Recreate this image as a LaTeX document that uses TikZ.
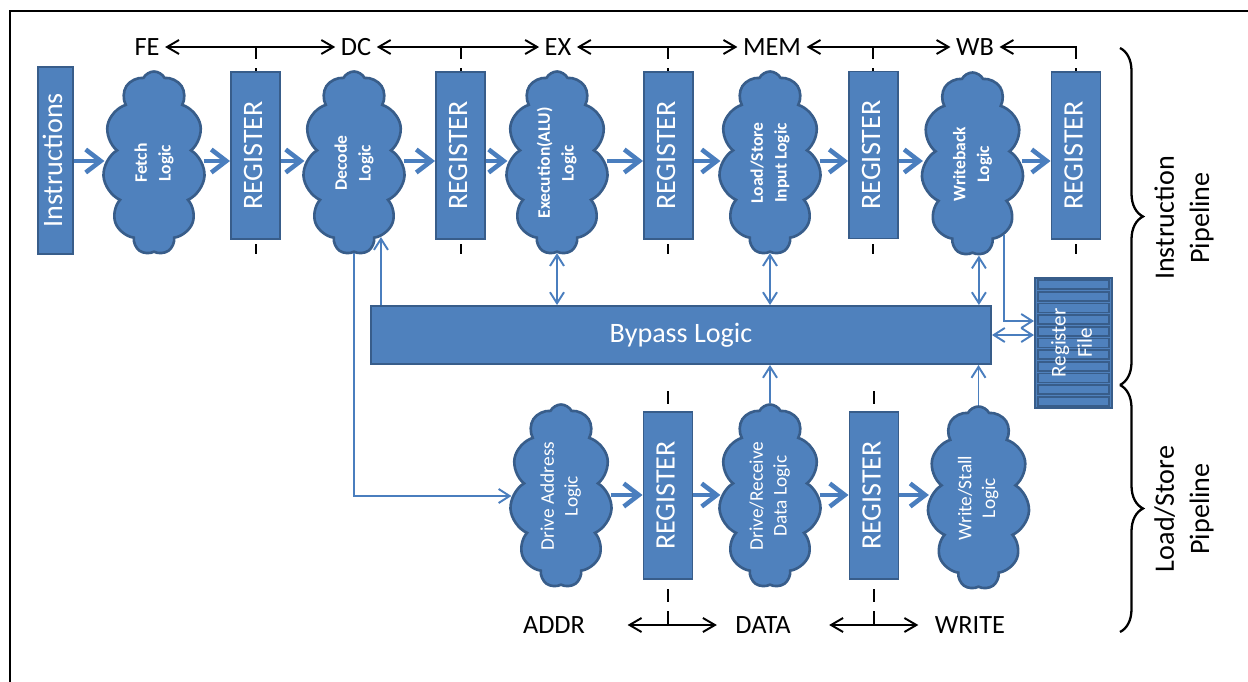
\documentclass[tikz,border=0pt]{standalone}
\usepackage{fontspec}
\setmainfont{Carlito}
\usepackage{tikz}
\usetikzlibrary{shapes.symbols,arrows.meta,decorations.pathreplacing,positioning}

\definecolor{stageblue}{RGB}{79,129,189}
\definecolor{stageedge}{RGB}{56,93,138}
\definecolor{wireblue}{RGB}{74,126,190}

\newcommand{\vtxt}[1]{\rotatebox{90}{\begin{tabular}{@{}c@{}}#1\end{tabular}}}

\tikzset{
  regbox/.style={draw=stageedge, fill=stageblue, line width=1.1pt, text=white, inner sep=0pt,
    minimum width=9.8mm, minimum height=33.4mm, font=\fontsize{16}{19}\selectfont},
  logiccloud/.style={cloud, cloud puffs=11, cloud puff arc=125, cloud ignores aspect, draw=stageedge, fill=stageblue,
    line width=1.5pt, text=white, inner sep=0pt, minimum width=20.4mm, minimum height=36.6mm},
  boldlogic/.style={logiccloud, font=\fontsize{10}{13.5}\selectfont\bfseries},
  plainlogic/.style={logiccloud, font=\fontsize{11}{13.5}\selectfont},
  bigarrow/.style={wireblue, line width=2.6pt, -{Straight Barb[length=3mm,width=4.6mm]}},
  thinarrow/.style={wireblue, line width=1.1pt, -{Straight Barb[length=2.2mm,width=2.8mm]}},
  thinboth/.style={wireblue, line width=1.1pt, {Straight Barb[length=2.2mm,width=2.8mm]}-{Straight Barb[length=2.2mm,width=2.8mm]}},
  stagelabel/.style={inner sep=3pt, font=\fontsize{15}{18}\selectfont},
  stagearrow/.style={line width=1.1pt, {Straight Barb[length=2.4mm,width=2.8mm]}-{Straight Barb[length=2.4mm,width=2.8mm]}},
  stageline/.style={line width=1.3pt, dash pattern=on 2.6mm off 1.8mm},
  pipebrace/.style={decorate, decoration={brace, amplitude=4.6mm}, line width=1.3pt},
  pipelabel/.style={rotate=90, align=center, font=\fontsize{16}{20}\selectfont}
}

\begin{document}
\begin{tikzpicture}[x=0.2mm,y=-0.2mm]
  \useasboundingbox (0,0) rectangle (1248,682);
  % frame
  \draw[line width=1.1pt] (10,682) -- (10,11) -- (1248,11);

  % stage boundaries, drawn behind the registers
  \foreach \x in {256,461,668,873,1076}
    \draw[stageline] (\x,46) -- (\x,254);
  \foreach \x in {668,874}
    \draw[stageline] (\x,391) -- (\x,624);

  % instruction pipeline
  \node[regbox, minimum width=7mm, minimum height=37.4mm] (instr) at (55.5,160.5) {\vtxt{Instructions}};
  \node[boldlogic] (fetch) at (154,163) {\vtxt{Fetch\\Logic}};
  \node[regbox] (reg1) at (255.5,155.5) {\vtxt{REGISTER}};
  \node[boldlogic] (decode) at (354,163) {\vtxt{Decode\\Logic}};
  \node[regbox] (reg2) at (460.5,155.5) {\vtxt{REGISTER}};
  \node[boldlogic] (exec) at (557,163) {\vtxt{Execution(ALU)\\Logic}};
  \node[regbox] (reg3) at (668.5,155.5) {\vtxt{REGISTER}};
  \node[boldlogic] (lsin) at (770,163) {\vtxt{Load/Store\\Input Logic}};
  \node[regbox] (reg4) at (873.5,155) {\vtxt{REGISTER}};
  \node[boldlogic] (wback) at (972.5,164) {\vtxt{Writeback\\Logic}};
  \node[regbox] (reg5) at (1076,155.5) {\vtxt{REGISTER}};

  \coordinate (row) at (0,161);
  \foreach \a/\b in {instr/fetch, fetch/reg1, reg1/decode, decode/reg2, reg2/exec,
                     exec/reg3, reg3/lsin, lsin/reg4, reg4/wback, wback/reg5}
    \draw[bigarrow] (\a.east |- row) -- (\b.west |- row);

  % bypass and register file
  \node[regbox, minimum width=124mm, minimum height=11.6mm] (bypass) at (681,335) {Bypass Logic};
  \node[draw=stageedge, fill=stageblue, line width=1.1pt, minimum width=15.4mm, minimum height=26mm] (regfile) at (1073.5,343) {};
  \foreach \i in {0,...,10}
    \draw[stageedge, fill=stageblue, line width=1pt] (1038,280+11.7*\i) rectangle ++(71,9);
  \node[text=white, font=\fontsize{12}{15}\selectfont] (regfiletxt) at (regfile) {\vtxt{Register\\File}};

  % load/store pipeline
  \node[plainlogic] (drvaddr) at (561,496) {\vtxt{Drive Address\\Logic}};
  \node[regbox] (reg6) at (668,495.5) {\vtxt{REGISTER}};
  \node[plainlogic] (drvdata) at (770,496) {\vtxt{Drive/Receive\\Data Logic}};
  \node[regbox] (reg7) at (874,495.5) {\vtxt{REGISTER}};
  \node[plainlogic] (wrstall) at (978.5,498) {\vtxt{Write/Stall\\Logic}};

  \coordinate (lrow) at (0,495);
  \foreach \a/\b in {drvaddr/reg6, reg6/drvdata, drvdata/reg7, reg7/wrstall}
    \draw[bigarrow] (\a.east |- lrow) -- (\b.west |- lrow);

  % bypass connections
  \draw[thinarrow] (decode.south) |- (drvaddr.west);
  \draw[thinarrow] (decode.-70 |- bypass.north) -- (decode.-70);
  \draw[thinboth] (exec.south) -- (exec.south |- bypass.north);
  \draw[thinboth] (lsin.south) -- (lsin.south |- bypass.north);
  \draw[thinboth] (wback.-86) -- (wback.-86 |- bypass.north);
  \draw[thinarrow] (wback.-66) |- ([yshift=4.4mm]regfile.west);
  \draw[thinboth] (bypass.east) -- (bypass.east -| regfile.west);
  \draw[thinarrow] (drvdata.north) -- (drvdata.north |- bypass.south);
  \draw[thinarrow] (wrstall.north) -- (wrstall.north |- bypass.south);

  % stage names
  \node[stagelabel] (fe) at (147,47) {FE};
  \node[stagelabel] (dc) at (356,47) {DC};
  \node[stagelabel] (ex) at (558,47) {EX};
  \node[stagelabel] (mem) at (772,47) {MEM};
  \node[stagelabel] (wb) at (975,47) {WB};
  \coordinate (wbcorner) at (1076,47);
  \draw[stagearrow] (fe) -- (dc);
  \draw[stagearrow] (dc) -- (ex);
  \draw[stagearrow] (ex) -- (mem);
  \draw[stagearrow] (mem) -- (wb);
  \draw[line width=1.1pt, -{Straight Barb[length=2.4mm,width=2.8mm]}] (wbcorner) -- (wb);

  \node[stagelabel] (addr) at (554,625) {ADDR};
  \node[stagelabel] (data) at (763,625) {DATA};
  \node[stagelabel] (write) at (970,625) {WRITE};
  \draw[stagearrow, shorten <=7.4mm, shorten >=2.6mm] (addr) -- (data);
  \draw[stagearrow, shorten <=6.6mm, shorten >=2.2mm] (data) -- (write);

  % pipeline braces
  \draw[pipebrace] (1120,48) -- (1120,385);
  \draw[pipebrace] (1120,385) -- (1120,632);
  \node[pipelabel] (ipipe) at (1184,218) {Instruction\\Pipeline};
  \node[pipelabel] (lspipe) at (1184,509) {Load/Store\\Pipeline};
\end{tikzpicture}
\end{document}
